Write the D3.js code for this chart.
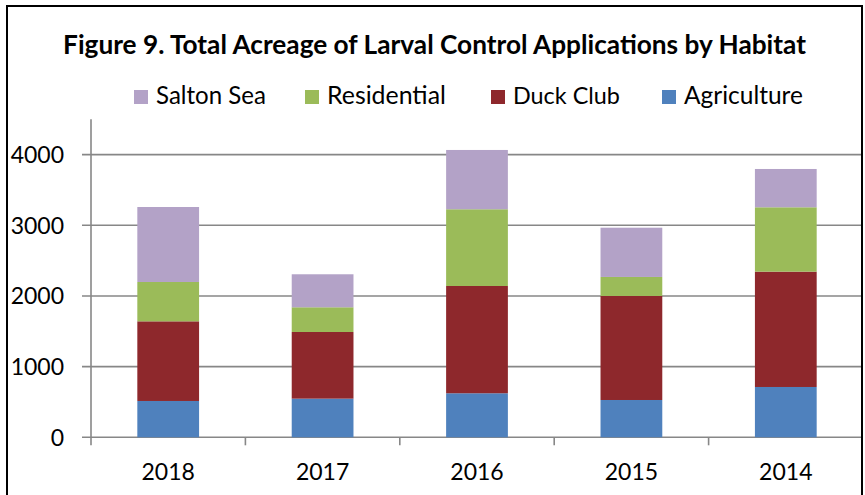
<!DOCTYPE html>
<html>
<head>
<meta charset="utf-8">
<script src="https://cdnjs.cloudflare.com/ajax/libs/d3/7.8.5/d3.min.js"></script>
<style>
  body { margin: 0; background: #fff; }
  text { font-family: Lato, "Open Sans", sans-serif; fill: #000; }
</style>
</head>
<body>
<svg id="canvas" width="865" height="495"></svg>
<script>
// Data
let years = ["2018", "2017", "2016", "2015", "2014"];
let habitats = ["Agriculture", "Duck Club", "Residential", "Salton Sea"];
let agriculture = [514, 547, 623, 528, 712];
let duckClub = [1127, 943, 1518, 1472, 1632];
let residential = [557, 350, 1086, 269, 911];
let saltonSea = [1061, 467, 839, 697, 542];
let yTicks = [0, 1000, 2000, 3000, 4000];
let legendOrder = ["Salton Sea", "Residential", "Duck Club", "Agriculture"];
let titleText = "Figure 9. Total Acreage of Larval Control Applications by Habitat";

let colors = {
  "Agriculture": "#4f81bd",
  "Duck Club": "#8e282c",
  "Residential": "#9bbb59",
  "Salton Sea": "#b3a2c7"
};

let width = 865;
let height = 495;
let plotLeft = 91;
let plotRight = 863;
let plotTop = 119.3;
let plotBottom = 437.3;

let canvas = d3.select("#canvas");

// rows for the stack
let rows = years.map((year, i) => ({
  year: year,
  "Agriculture": agriculture[i],
  "Duck Club": duckClub[i],
  "Residential": residential[i],
  "Salton Sea": saltonSea[i]
}));

let series = d3.stack().keys(habitats)(rows);

let xScale = d3.scaleBand()
  .domain(years)
  .range([plotLeft, plotRight])
  .paddingInner(0.6)
  .paddingOuter(0.3);

let yScale = d3.scaleLinear()
  .domain([0, 4500])
  .range([plotBottom, plotTop]);

canvas.append("rect")
  .attr("width", width)
  .attr("height", height)
  .attr("fill", "#fff");

// gridlines
canvas.append("g")
  .selectAll("line")
  .data(yTicks)
  .enter()
  .append("line")
  .attr("x1", plotLeft - 9)
  .attr("x2", plotRight)
  .attr("y1", (d) => yScale(d))
  .attr("y2", (d) => yScale(d))
  .attr("stroke", "#878787")
  .attr("stroke-width", 1.6);

// y axis line
canvas.append("line")
  .attr("x1", plotLeft)
  .attr("x2", plotLeft)
  .attr("y1", plotTop)
  .attr("y2", plotBottom + 8)
  .attr("stroke", "#878787")
  .attr("stroke-width", 1.6);

// x ticks between categories
let step = xScale.step();
canvas.append("g")
  .selectAll("line")
  .data(years.slice(1))
  .enter()
  .append("line")
  .attr("x1", (d) => xScale(d) - step * 0.3)
  .attr("x2", (d) => xScale(d) - step * 0.3)
  .attr("y1", plotBottom)
  .attr("y2", plotBottom + 8)
  .attr("stroke", "#878787")
  .attr("stroke-width", 1.6);

// bars
canvas.append("g")
  .selectAll("g")
  .data(series)
  .enter()
  .append("g")
  .attr("fill", (s) => colors[s.key])
  .selectAll("rect")
  .data((s) => s)
  .enter()
  .append("rect")
  .attr("x", (d) => xScale(d.data.year))
  .attr("width", xScale.bandwidth())
  .attr("y", (d) => yScale(d[1]))
  .attr("height", (d) => yScale(d[0]) - yScale(d[1]));

// y labels
canvas.append("g")
  .selectAll("text")
  .data(yTicks)
  .enter()
  .append("text")
  .attr("x", 64)
  .attr("y", (d) => yScale(d))
  .attr("dy", "0.36em")
  .attr("text-anchor", "end")
  .style("font-size", "23px")
  .text((d) => d);

// x labels
canvas.append("g")
  .selectAll("text")
  .data(years)
  .enter()
  .append("text")
  .attr("x", (d) => xScale(d) + xScale.bandwidth() / 2)
  .attr("y", 480)
  .attr("text-anchor", "middle")
  .style("font-size", "23px")
  .text((d) => d);

// fit a text element to a target width
let fitText = (sel, target, size) => {
  sel.style("font-size", size + "px");
  let w = sel.node().getComputedTextLength();
  sel.style("font-size", (size * target / w) + "px");
};

// title
let title = canvas.append("text")
  .attr("x", 434.5)
  .attr("y", 54)
  .attr("text-anchor", "middle")
  .style("font-weight", "bold")
  .text(titleText);
fitText(title, 743, 24);

// legend
let legendX = [134, 305, 491, 662];
let legendW = [110, 119, 107, 119];
let legend = canvas.append("g")
  .selectAll("g")
  .data(legendOrder)
  .enter()
  .append("g");

legend.append("rect")
  .attr("x", (d, i) => legendX[i])
  .attr("y", 90)
  .attr("width", 14)
  .attr("height", 14)
  .attr("fill", (d) => colors[d]);

legend.append("text")
  .attr("x", (d, i) => legendX[i] + 22)
  .attr("y", 104)
  .text((d) => d)
  .each(function (d, i) {
    fitText(d3.select(this), legendW[i], 24);
  });

// chart border
canvas.append("rect")
  .attr("x", 7)
  .attr("y", 6)
  .attr("width", 855)
  .attr("height", 510)
  .attr("fill", "none")
  .attr("stroke", "#000")
  .attr("stroke-width", 2);
</script>
</body>
</html>
